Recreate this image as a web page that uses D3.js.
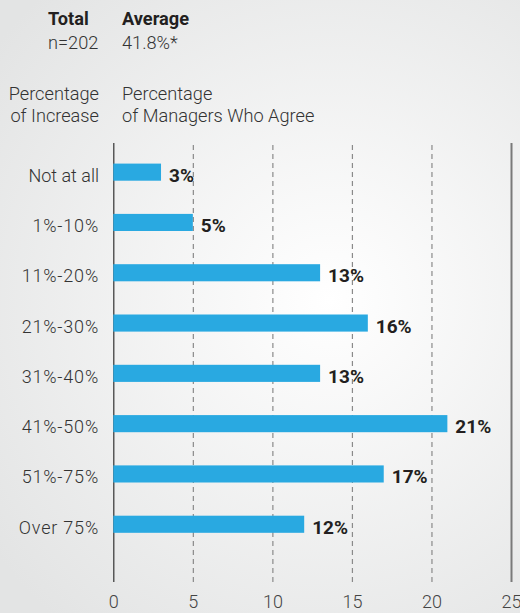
<!DOCTYPE html>
<meta charset="utf-8">
<style>
body { margin: 0; }
svg { display: block; }
text { font-family: Roboto, "Liberation Sans", Arial, sans-serif; }
.light { font-weight: 300; fill: #333; }
.bold { font-weight: 700; fill: #231f20; }
.axis path { display: none; }
.axis text { font-size: 18px; font-weight: 300; fill: #444; }
</style>
<body>
<div id="chart"></div>
<script src="https://d3js.org/d3.v7.min.js"></script>
<script>

// data
var categories = ["Not at all", "1%-10%", "11%-20%", "21%-30%", "31%-40%", "41%-50%", "51%-75%", "Over 75%"];
var values = [3, 5, 13, 16, 13, 21, 17, 12];
var ticks = [0, 5, 10, 15, 20, 25];

var largeur = 520;
var hauteur = 613;
var margin = {top: 143, right: 9, bottom: 29, left: 113.3};

var svg = d3.select("#chart")
  .append("svg")
    .attr("width", largeur)
    .attr("height", hauteur);

// fond gris clair
var bg = svg.append("defs").append("radialGradient")
    .attr("id", "bg")
    .attr("gradientUnits", "userSpaceOnUse")
    .attr("cx", 330).attr("cy", 300).attr("r", 420);
bg.append("stop").attr("offset", "0%").attr("stop-color", "#ffffff");
bg.append("stop").attr("offset", "100%").attr("stop-color", "#e3e4e4");
svg.append("rect")
    .attr("width", largeur)
    .attr("height", hauteur)
    .attr("fill", "url(#bg)");

var x = d3.scaleLinear()
    .domain([0, 25])
    .range([margin.left, largeur - margin.right]);

var y = d3.scaleBand()
    .domain(categories)
    .range([147, 549.4])
    .paddingInner(0.66)
    .paddingOuter(0.33);

// axe + grille
var axisY = hauteur - margin.bottom - 2;
var gAxis = svg.append("g")
    .attr("class", "axis")
    .attr("transform", "translate(0," + axisY + ")")
    .call(d3.axisBottom(x).tickValues(ticks)
        .tickSize(-(axisY - margin.top))
        .tickPadding(13));

gAxis.selectAll(".tick line")
    .attr("stroke", function(d) { return d === 0 ? "#333" : (d === 25 ? "#7a7a7a" : "#8a8a8a"); })
    .attr("stroke-width", function(d) { return d === 25 ? 2 : 1.2; })
    .attr("stroke-dasharray", function(d) { return (d === 0 || d === 25) ? null : "5,4"; });

// barres
svg.selectAll(".bar")
  .data(values)
  .enter().append("rect")
    .attr("class", "bar")
    .attr("x", x(0))
    .attr("y", function(d, i) { return y(categories[i]); })
    .attr("width", function(d) { return x(d) - x(0); })
    .attr("height", y.bandwidth())
    .attr("fill", "#29a9e1");

// étiquettes des valeurs
svg.selectAll(".val")
  .data(values)
  .enter().append("text")
    .attr("class", "bold")
    .attr("x", function(d) { return x(d) + 8; })
    .attr("y", function(d, i) { return y(categories[i]) + y.bandwidth() / 2 + 9.5; })
    .style("font-size", "19px")
    .text(function(d) { return d + "%"; });

// catégories
svg.selectAll(".cat")
  .data(categories)
  .enter().append("text")
    .attr("class", "light")
    .attr("x", 99)
    .attr("y", function(d) { return y(d) + y.bandwidth() / 2 + 9.5; })
    .attr("text-anchor", "end")
    .style("font-size", "18px")
    .style("letter-spacing", function(d) { return d.indexOf("%") >= 0 ? "0.8px" : null; })
    .text(function(d) { return d; });

// en-tête
function label(txt, xx, yy, cls, anchor) {
  svg.append("text")
    .attr("class", cls)
    .attr("x", xx)
    .attr("y", yy)
    .attr("text-anchor", anchor || "start")
    .style("font-size", "18.2px")
    .text(txt);
}
label("Total", 48, 25, "bold");
label("n=202", 48, 48.5, "light");
label("Average", 122, 25, "bold");
label("41.8%*", 122, 48.5, "light");
label("Percentage", 99, 100, "light", "end");
label("of Increase", 99, 121.7, "light", "end");
label("Percentage", 122, 100, "light");
label("of Managers Who Agree", 122, 121.7, "light");

</script>
</body>
